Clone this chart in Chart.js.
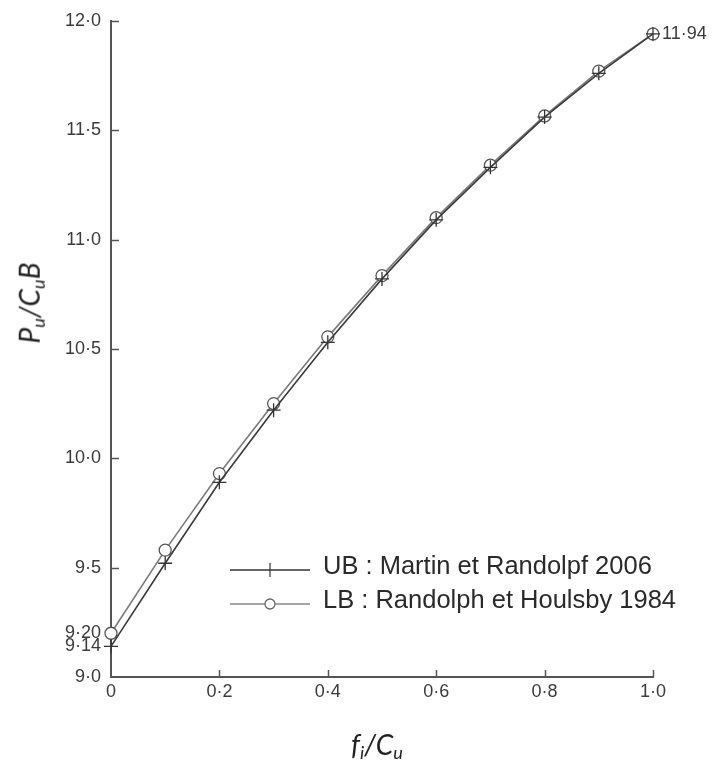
<!DOCTYPE html>
<html>
<head>
<meta charset="utf-8">
<script src="https://cdn.jsdelivr.net/npm/chart.js@4.4.1/dist/chart.umd.min.js"></script>
<style>
  html, body { margin: 0; padding: 0; background: #fff; }
  #wrap { position: relative; width: 718px; height: 760px; }
  #chart { position: absolute; left: 0; top: 0; }
  .title { position: absolute; font: italic 28px Lato, "Open Sans", sans-serif; color: #222; white-space: nowrap; }
  .title sub { font-size: 65%; vertical-align: -0.25em; }
  #ytitle { left: 30px; top: 303px; transform: translate(-50%, -50%) rotate(-90deg); }
  #xtitle { left: 377px; top: 745px; transform: translate(-50%, -50%); }
</style>
</head>
<body>
<div id="wrap">
  <canvas id="chart" width="718" height="760"></canvas>
  <div class="title" id="ytitle">P<sub>u</sub>/C<sub>u</sub>B</div>
  <div class="title" id="xtitle">f<sub>i</sub>/C<sub>u</sub></div>
</div>
<script>
// f_i / C_u
const fiCu = [0, 0.1, 0.2, 0.3, 0.4, 0.5, 0.6, 0.7, 0.8, 0.9, 1.0];
// UB : Martin et Randolpf 2006
const ubValues = [9.14, 9.52, 9.89, 10.22, 10.53, 10.82, 11.09, 11.33, 11.56, 11.76, 11.94];
// LB : Randolph et Houlsby 1984
const lbValues = [9.20, 9.58, 9.93, 10.25, 10.555, 10.835, 11.10, 11.34, 11.565, 11.77, 11.94];

const ubLabel = "UB : Martin et Randolpf 2006";
const lbLabel = "LB : Randolph et Houlsby 1984";
const endLabel = "11·94";

const xTicks = [0, 0.2, 0.4, 0.6, 0.8, 1.0];
const xTickLabels = ["0", "0·2", "0·4", "0·6", "0·8", "1·0"];
const yTicks = [9.0, 9.14, 9.20, 9.5, 10.0, 10.5, 11.0, 11.5, 12.0];
const yTickLabels = ["9·0", "9·14", "9·20", "9·5", "10·0", "10·5", "11·0", "11·5", "12·0"];
const yTickMarks = [9.5, 10.0, 10.5, 11.0, 11.5, 12.0];

const axisColor = "#555";
const tickFont = { family: "'Liberation Sans', Arial, sans-serif", size: 18 };

// inward tick marks, end label and the in-plot legend
const extras = {
  id: "extras",
  afterDraw(chart) {
    const { ctx, chartArea, scales: { x, y } } = chart;
    ctx.save();
    ctx.strokeStyle = axisColor;
    ctx.lineWidth = 1.5;
    yTickMarks.forEach((v) => {
      const py = Math.round(y.getPixelForValue(v)) + 0.5;
      ctx.beginPath();
      ctx.moveTo(chartArea.left, py);
      ctx.lineTo(chartArea.left + 8, py);
      ctx.stroke();
    });
    xTicks.slice(1).forEach((v) => {
      const px = Math.round(x.getPixelForValue(v)) + 0.5;
      ctx.beginPath();
      ctx.moveTo(px, chartArea.bottom);
      ctx.lineTo(px, chartArea.bottom - 7);
      ctx.stroke();
    });

    // value label beside last point
    const last = fiCu.length - 1;
    ctx.fillStyle = "#3a3a3a";
    ctx.font = "18px 'Liberation Sans', Arial, sans-serif";
    ctx.textAlign = "left";
    ctx.textBaseline = "middle";
    ctx.fillText(endLabel, x.getPixelForValue(fiCu[last]) + 9, y.getPixelForValue(ubValues[last]));

    // legend
    const rows = [
      { text: ubLabel, ly: 570, color: "#333", style: "cross" },
      { text: lbLabel, ly: 604, color: "#888", style: "circle" },
    ];
    rows.forEach((r) => {
      ctx.strokeStyle = r.color;
      ctx.lineWidth = 1.6;
      ctx.beginPath();
      ctx.moveTo(230, r.ly);
      ctx.lineTo(310, r.ly);
      ctx.stroke();
      if (r.style === "cross") {
        ctx.strokeStyle = "#333";
        ctx.lineWidth = 1.2;
        ctx.beginPath();
        ctx.moveTo(270, r.ly - 7);
        ctx.lineTo(270, r.ly + 7);
        ctx.stroke();
      } else {
        ctx.strokeStyle = "#666";
        ctx.fillStyle = "#fff";
        ctx.lineWidth = 1.3;
        ctx.beginPath();
        ctx.arc(270, r.ly, 5, 0, Math.PI * 2);
        ctx.fill();
        ctx.stroke();
      }
      ctx.fillStyle = "#2a2a2a";
      ctx.font = "25.5px 'Liberation Sans', Arial, sans-serif";
      ctx.textBaseline = "middle";
      ctx.fillText(r.text, 323, r.ly - 3);
    });
    ctx.restore();
  },
};

new Chart(document.getElementById("chart"), {
  type: "scatter",
  data: {
    datasets: [
      {
        label: ubLabel,
        data: fiCu.map((v, i) => ({ x: v, y: ubValues[i] })),
        showLine: true,
        borderColor: "#3a3a3a",
        borderWidth: 1.6,
        pointStyle: "cross",
        pointRadius: 7,
        pointBorderColor: "#333",
        pointBorderWidth: 1.3,
        clip: false,
      },
      {
        label: lbLabel,
        data: fiCu.map((v, i) => ({ x: v, y: lbValues[i] })),
        showLine: true,
        borderColor: "#7a7a7a",
        borderWidth: 1.6,
        pointStyle: "circle",
        pointRadius: 6,
        pointBackgroundColor: "#fff",
        pointBorderColor: "#555",
        pointBorderWidth: 1.3,
        clip: false,
      },
    ],
  },
  options: {
    responsive: false,
    animation: false,
    layout: { padding: { left: 0, top: 16, right: 65, bottom: 0 } },
    plugins: {
      legend: { display: false },
      tooltip: { enabled: false },
    },
    scales: {
      x: {
        type: "linear",
        min: 0,
        max: 1,
        afterBuildTicks: (s) => { s.ticks = xTicks.map((v) => ({ value: v })); },
        afterFit: (s) => { s.height = 83; },
        ticks: {
          callback: (v) => xTickLabels[xTicks.indexOf(v)],
          font: tickFont,
          color: "#3a3a3a",
          padding: 4,
          maxRotation: 0,
          autoSkip: false,
        },
        grid: { display: false, drawTicks: false },
        border: { color: axisColor, width: 2 },
      },
      y: {
        type: "linear",
        min: 9,
        max: 12,
        afterBuildTicks: (s) => { s.ticks = yTicks.map((v) => ({ value: v })); },
        afterFit: (s) => { s.width = 111; },
        ticks: {
          callback: (v) => yTickLabels[yTicks.indexOf(v)],
          font: tickFont,
          color: "#3a3a3a",
          padding: 10,
          autoSkip: false,
        },
        grid: { display: false, drawTicks: false },
        border: { color: axisColor, width: 2 },
      },
    },
  },
  plugins: [extras],
});
</script>
</body>
</html>
